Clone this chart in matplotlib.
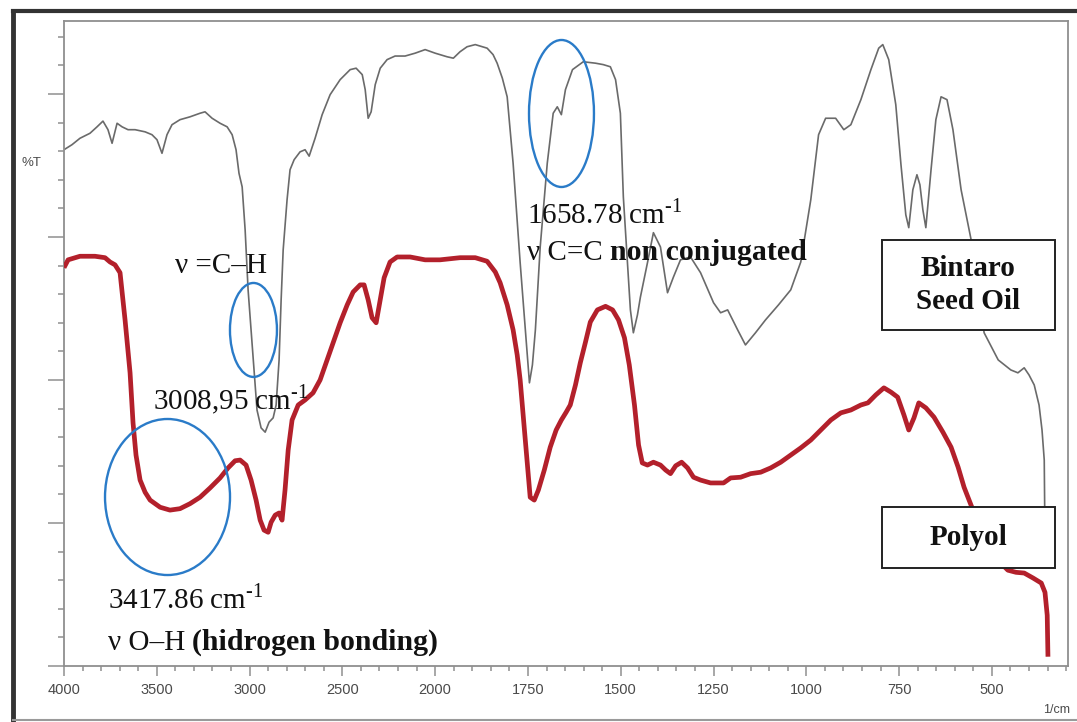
import numpy as np
import matplotlib
matplotlib.use("Agg")
import matplotlib.pyplot as plt
from matplotlib.patches import Ellipse, Rectangle
from matplotlib.lines import Line2D

plt.rcParams['mathtext.fontset'] = 'custom'
plt.rcParams['mathtext.rm'] = 'Liberation Serif'

# Bintaro seed oil spectrum (wavenumber cm-1, %T)
oil_wn = [4000, 3957, 3914, 3860, 3822, 3790, 3763, 3741, 3714, 3687, 3655, 3617, 3563, 3526,
          3499, 3472, 3445, 3418, 3375, 3321, 3267, 3240, 3202, 3159, 3121, 3094, 3073, 3057,
          3040, 3024, 3008, 2992, 2976, 2960, 2938, 2916, 2895, 2873, 2857, 2841, 2830, 2819,
          2798, 2782, 2760, 2728, 2701, 2679, 2647, 2609, 2566, 2512, 2458, 2426, 2393, 2377,
          2361, 2345, 2323, 2296, 2259, 2216, 2162, 2108, 2054, 2000, 1987, 1968, 1951, 1933,
          1914, 1892, 1860, 1844, 1833, 1819, 1806, 1790, 1771, 1757, 1746, 1738, 1730, 1717,
          1698, 1682, 1671, 1660, 1649, 1630, 1601, 1568, 1547, 1528, 1514, 1501, 1493, 1482,
          1474, 1466, 1455, 1447, 1428, 1412, 1393, 1374, 1358, 1339, 1312, 1285, 1250, 1231,
          1212, 1185, 1164, 1137, 1110, 1075, 1042, 1015, 988, 967, 948, 921, 899, 880, 853,
          826, 805, 794, 778, 759, 745, 732, 724, 713, 702, 694, 686, 678, 664, 651, 637, 621,
          605, 583, 556, 521, 483, 449, 430, 413, 400, 386, 373, 365, 359, 357]
oil_t = [72.2, 72.9, 73.8, 74.5, 75.4, 76.2, 75.0, 73.1, 75.9, 75.4, 75.0, 75.0, 74.7, 74.3,
         73.6, 71.7, 74.3, 75.7, 76.4, 76.8, 77.3, 77.5, 76.6, 75.9, 75.4, 74.3, 72.2, 68.9,
         67.0, 61.0, 52.6, 47.0, 41.4, 35.8, 33.3, 32.7, 34.1, 34.7, 36.5, 42.8, 51.2, 58.2,
         65.2, 69.4, 70.8, 71.9, 72.2, 71.3, 73.8, 77.1, 79.9, 82.0, 83.4, 83.6, 82.7, 80.6,
         76.6, 77.5, 81.3, 83.6, 84.8, 85.3, 85.3, 85.7, 86.2, 85.7, 85.5, 85.2, 85.0, 85.9,
         86.6, 86.9, 86.4, 85.5, 84.3, 82.2, 79.6, 70.3, 56.4, 47.0, 39.6, 42.1, 47.0, 58.6,
         70.3, 77.3, 78.2, 77.1, 80.6, 83.4, 84.5, 84.3, 84.1, 83.8, 82.0, 77.3, 65.6, 56.4,
         49.8, 46.6, 49.1, 51.6, 56.4, 60.6, 58.6, 52.2, 54.4, 56.8, 57.2, 55.0, 50.8, 49.4,
         49.8, 47.0, 44.9, 46.6, 48.4, 50.5, 52.6, 56.5, 65.2, 74.3, 76.6, 76.6, 75.0, 75.7, 79.2,
         83.4, 86.4, 86.9, 84.8, 78.5, 70.1, 63.1, 61.3, 66.6, 68.7, 67.3, 63.8, 61.3, 69.4, 76.4, 79.6, 79.2,
         75.0, 66.6, 59.6, 46.6, 42.8, 41.4, 41.0, 41.7, 40.7, 39.3, 36.5, 33.0, 28.8, 17.6]

# Polyol spectrum (wavenumber cm-1, %T)
pol_wn = [4000, 3978, 3914, 3833, 3779, 3752, 3725, 3698, 3671, 3644, 3628, 3612, 3590, 3563,
          3536, 3482, 3429, 3375, 3321, 3267, 3213, 3159, 3116, 3078, 3051, 3019, 2992, 2965,
          2943, 2922, 2900, 2884, 2862, 2841, 2825, 2809, 2792, 2771, 2738, 2701, 2658, 2620,
          2582, 2544, 2512, 2474, 2442, 2404, 2383, 2361, 2340, 2318, 2296, 2275, 2243, 2205,
          2135, 2054, 1987, 1933, 1892, 1860, 1838, 1825, 1806, 1790, 1779, 1771, 1763, 1754,
          1744, 1733, 1722, 1706, 1690, 1674, 1660, 1647, 1636, 1622, 1609, 1595, 1582, 1563,
          1541, 1522, 1506, 1490, 1477, 1463, 1452, 1442, 1428, 1412, 1393, 1379, 1366, 1352,
          1336, 1320, 1304, 1285, 1258, 1223, 1204, 1177, 1150, 1123, 1096, 1069, 1042, 1015,
          988, 961, 934, 907, 880, 853, 834, 813, 791, 772, 754, 737, 724, 710, 697, 678, 656,
          632, 610, 591, 575, 548, 524, 503, 476, 457, 435, 413, 389, 367, 357, 351, 349]
pol_t = [55.7, 56.8, 57.3, 57.3, 57.1, 56.5, 56.1, 55.0, 48.4, 41.0, 34.0, 29.5, 26.0, 24.3,
         23.2, 22.2, 21.8, 22.0, 22.7, 23.6, 24.9, 26.3, 27.7, 28.7, 28.8, 28.1, 26.0, 23.2,
         20.4, 19.0, 18.7, 20.1, 21.1, 21.4, 20.4, 24.6, 30.2, 34.4, 36.5, 37.2, 38.2, 40.0,
         42.8, 45.6, 48.0, 50.5, 52.3, 53.3, 53.3, 51.2, 48.7, 48.0, 51.2, 54.3, 56.5, 57.2,
         57.2, 56.8, 56.8, 57.1, 57.1, 56.6, 55.1, 53.6, 50.5, 47.0, 43.5, 40.0, 35.1, 29.5,
         23.6, 23.2, 24.6, 27.4, 30.6, 33.0, 34.4, 35.5, 36.5, 39.3, 42.4, 45.3, 48.1, 49.8,
         50.3, 49.8, 48.4, 45.9, 42.1, 36.5, 30.9, 28.4, 28.1, 28.5, 28.1, 27.4, 26.9, 28.0,
         28.5, 27.7, 26.4, 26.0, 25.6, 25.6, 26.3, 26.4, 26.9, 27.1, 27.7, 28.5, 29.5, 30.5,
         31.6, 33.0, 34.4, 35.4, 35.8, 36.5, 36.8, 37.9, 38.9, 38.3, 37.6, 35.1, 33.0, 34.7, 36.8, 36.1, 34.8,
         32.7, 30.6, 27.8, 25.0, 21.4, 18.3, 15.8, 14.4, 13.4, 13.1, 13.0, 12.3, 11.6, 10.3, 7.1, 1.3]

major_ticks = [4000, 3500, 3000, 2500, 2000, 1750, 1500, 1250, 1000, 750, 500]


# instrument style axis: 4000-2000 drawn at half the scale of 2000-300
def fwd(x):
    x = np.asarray(x, dtype=float)
    return np.where(x >= 2000, (x - 2000) / 2.0, x - 2000)


def inv(u):
    u = np.asarray(u, dtype=float)
    return np.where(u >= 0, 2000 + 2.0 * u, u + 2000)


fig = plt.figure(figsize=(10.77, 7.22), dpi=100)
ax = fig.add_axes([64 / 1077, 56 / 722, 1004 / 1077, 645 / 722])
ax.set_xscale('function', functions=(fwd, inv))

ax.plot(oil_wn, oil_t, color='#6a6a6a', lw=1.2, zorder=2)
ax.plot(pol_wn, pol_t, color='#b3202b', lw=3.4, zorder=3, solid_capstyle='butt')

ax.set_xlim(4000, 295)
ax.set_ylim(0, 90.2)

minor = list(range(3900, 2000, -100)) + list(range(1950, 295, -50))
minor = [m for m in minor if m not in major_ticks]
ax.set_xticks(major_ticks)
ax.set_xticklabels([str(t) for t in major_ticks])
ax.set_xticks(minor, minor=True)
ax.set_yticks(np.arange(0, 90, 20))
ax.set_yticks(np.arange(0, 90.2, 4), minor=True)

for s in ax.spines.values():
    s.set_color('#8f8f8f')
    s.set_linewidth(1.3)

ax.tick_params(axis='x', which='major', direction='out', length=7, width=1.1, color='#8f8f8f',
               labelsize=10.5, labelcolor='#4a4a4a', pad=5)
ax.tick_params(axis='x', which='minor', direction='out', length=3.5, width=1.1, color='#8f8f8f')
ax.tick_params(axis='y', which='major', direction='out', length=11.5, width=1.1, color='#8f8f8f',
               labelleft=False)
ax.tick_params(axis='y', which='minor', direction='out', length=4.5, width=1.1, color='#8f8f8f')
for lab in ax.get_xticklabels():
    lab.set_fontfamily('Liberation Sans')

ax.text(1.002, -0.068, '1/cm', transform=ax.transAxes, ha='right', va='center',
        fontsize=9, color='#4a4a4a', family='Liberation Sans')
ax.text(-0.042, 0.78, '%T', transform=ax.transAxes, ha='left', va='center',
        fontsize=9.5, color='#4a4a4a', family='Liberation Sans')

# marked bands
blue = '#2a7bc8'
for cx, cy, w, h in [(0.1031, 0.262, 0.1245, 0.2419),
                     (0.1887, 0.521, 0.0468, 0.1457),
                     (0.4955, 0.8566, 0.0647, 0.2279)]:
    ax.add_patch(Ellipse((cx, cy), w, h, transform=ax.transAxes, fill=False,
                         edgecolor=blue, lw=1.7, zorder=5))

serif = 'Liberation Serif'
fs = 21
tkw = dict(transform=ax.transAxes, family=serif, fontsize=fs, color='#111111',
           va='baseline', ha='left', zorder=6)
sup = ' cm$^{\\text{-1}}$'
ax.text(0.0438, 0.0899, '3417.86' + sup, **tkw)
ax.text(0.0886, 0.397, '3008,95' + sup, **tkw)
ax.text(0.4612, 0.6868, '1658.78' + sup, **tkw)
ax.text(0.1106, 0.609, 'ν =C–H', **tkw)


# band description: symbol part in regular weight, the words in bold
def band_label(x, y, head, tail):
    t1 = ax.text(x, y, head, **tkw)
    ax.annotate(tail, xy=(1, 0), xycoords=t1, va='bottom', ha='left', family=serif,
                fontsize=fs + 0.5, fontweight='bold', color='#111111', zorder=6)


band_label(0.0438, 0.0248, 'ν O–H ', '(hidrogen bonding)')
band_label(0.4612, 0.6295, 'ν C=C ', 'non conjugated')

# sample labels
for (x0, y0, x1, y1), label in [((0.8147, 0.5209, 0.9870, 0.6605), 'Bintaro\nSeed Oil'),
                                ((0.8147, 0.152, 0.9870, 0.2465), 'Polyol')]:
    ax.add_patch(Rectangle((x0, y0), x1 - x0, y1 - y0, transform=ax.transAxes,
                           facecolor='white', edgecolor='#222222', lw=1.4, zorder=7))
    ax.text((x0 + x1) / 2, (y0 + y1) / 2, label, transform=ax.transAxes, ha='center',
            va='center', family=serif, fontsize=21, fontweight='bold', linespacing=1.3,
            color='#111111', zorder=8)

# outer frame of the picture
fig.add_artist(Line2D([13 / 1077, 1.0], [1 - 11 / 722, 1 - 11 / 722], color='#333333', lw=3))
fig.add_artist(Line2D([13 / 1077, 13 / 1077], [1 - 11 / 722, 2 / 722], color='#333333', lw=3.5))
fig.add_artist(Line2D([13 / 1077, 1.0], [2 / 722, 2 / 722], color='#9a9a9a', lw=1.5))

fig.savefig('out.png', dpi=100)
